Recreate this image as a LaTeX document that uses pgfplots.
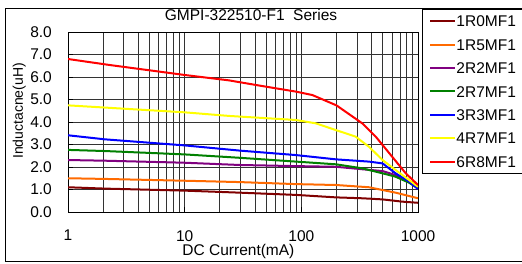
\documentclass[border=0pt]{standalone}
\usepackage{pgfplots}
\pgfplotsset{compat=1.18}
\usepackage{fontspec}
\setmainfont{Liberation Sans}
\definecolor{c1}{HTML}{800000}
\definecolor{c2}{HTML}{FF6A00}
\definecolor{c3}{HTML}{800080}
\definecolor{c4}{HTML}{008000}
\definecolor{c5}{HTML}{0000FF}
\definecolor{c6}{HTML}{FFFF00}
\definecolor{c7}{HTML}{FF0000}
\begin{document}
\begin{tikzpicture}[x=1pt,y=1pt]
\useasboundingbox (0,0) rectangle (522,263);
\fill[white] (0,0) rectangle (522,263);
\draw[line width=1pt] (540,254) -- (5.5,254) -- (5.5,1.5) -- (540,1.5);
\begin{axis}[
  at={(68pt,51pt)}, anchor=south west,
  scale only axis, width=350pt, height=180pt,
  xmode=log, xmin=1, xmax=1000, ymin=0, ymax=8,
  xtick={1,10,100,1000}, xticklabels={1,10,100,1000},
  minor xtick={2,3,4,5,6,7,8,9,20,30,40,50,60,70,80,90,200,300,400,500,600,700,800,900},
  ytick={0,1,2,3,4,5,6,7,8},
  yticklabels={0.0,1.0,2.0,3.0,4.0,5.0,6.0,7.0,8.0},
  xmajorgrids, xminorgrids, ymajorgrids,
  major grid style={black!80, line width=0.8pt},
  minor grid style={black!80, line width=0.8pt},
  axis line style={black, line width=1pt},
  tick align=inside, xtick pos=bottom, ytick pos=left,
  major tick length=5pt, minor tick length=0pt,
  tick style={black, line width=1pt},
  /pgf/number format/assume math mode=true,
  tick label style={font=\fontsize{15.5}{18}\selectfont, inner sep=0pt},
  xticklabel style={anchor=north, yshift=-18pt},
  yticklabel style={anchor=east, xshift=-16pt},
  title={GMPI-322510-F1\ \ Series},
  title style={at={(0.523,1.028)}, anchor=base, inner sep=0pt, font=\fontsize{15.5}{18}\selectfont},
  xlabel={DC Current(mA)},
  xlabel style={at={(0.487,-0.239)}, anchor=base, inner sep=0pt, font=\fontsize{15.5}{18}\selectfont},
  ylabel={Inductacne(uH)},
  ylabel style={at={(-0.1286,0.561)}, anchor=base, rotate=0, inner sep=0pt, font=\fontsize{14}{16}\selectfont},
  legend style={at={(1.0114,1.1278)}, anchor=north west, draw=black, line width=1pt,
    font=\fontsize{15.5}{18}\selectfont, inner xsep=7pt, inner ysep=0pt, row sep=0pt,
    nodes={inner sep=0pt, text height=17.3pt, text depth=6.1pt}},
  legend cell align=left,
  legend image code/.code={\draw[#1, line width=2pt] (0pt,0pt) -- (25pt,0pt);},
  every axis plot/.append style={line width=2pt, line join=round},
]
\addplot[c1] coordinates {(1,1.1) (2.07,1.04) (10,0.95) (29.5,0.86) (90,0.76) (198,0.65) (333,0.61) (497,0.56) (735,0.46) (1000,0.41)};
\addlegendentry{1R0MF1}
\addplot[c2] coordinates {(1,1.5) (2.07,1.47) (10,1.39) (29.5,1.33) (90,1.24) (198,1.2) (380,1.1) (642,0.86) (1000,0.61)};
\addlegendentry{1R5MF1}
\addplot[c3] coordinates {(1,2.31) (2.07,2.28) (10,2.19) (29.5,2.09) (90,2.04) (198,2.01) (333,1.9) (497,1.82) (642,1.64) (840,1.35) (1000,1.1)};
\addlegendentry{2R2MF1}
\addplot[c4] coordinates {(1,2.76) (2.07,2.71) (10,2.56) (29.5,2.41) (90,2.24) (198,2.12) (333,1.94) (497,1.72) (642,1.57) (840,1.3) (1000,1.05)};
\addlegendentry{2R7MF1}
\addplot[c5] coordinates {(1,3.41) (2.07,3.23) (10,2.96) (29.5,2.73) (90,2.53) (198,2.34) (380,2.24) (497,2.16) (642,1.72) (840,1.35) (1000,1.02)};
\addlegendentry{3R3MF1}
\addplot[c6] coordinates {(1,4.74) (10,4.43) (24,4.27) (90,4.09) (133,3.94) (198,3.64) (292,3.35) (380,2.9) (497,2.31) (642,1.87) (840,1.42) (1000,1.12)};
\addlegendentry{4R7MF1}
\addplot[c7] coordinates {(1,6.8) (2.3,6.53) (10,6.09) (24,5.85) (46,5.6) (90,5.35) (124,5.2) (200,4.74) (333,3.94) (434,3.35) (600,2.46) (785,1.72) (1000,1.2)};
\addlegendentry{6R8MF1}
\end{axis}
\end{tikzpicture}
\end{document}
